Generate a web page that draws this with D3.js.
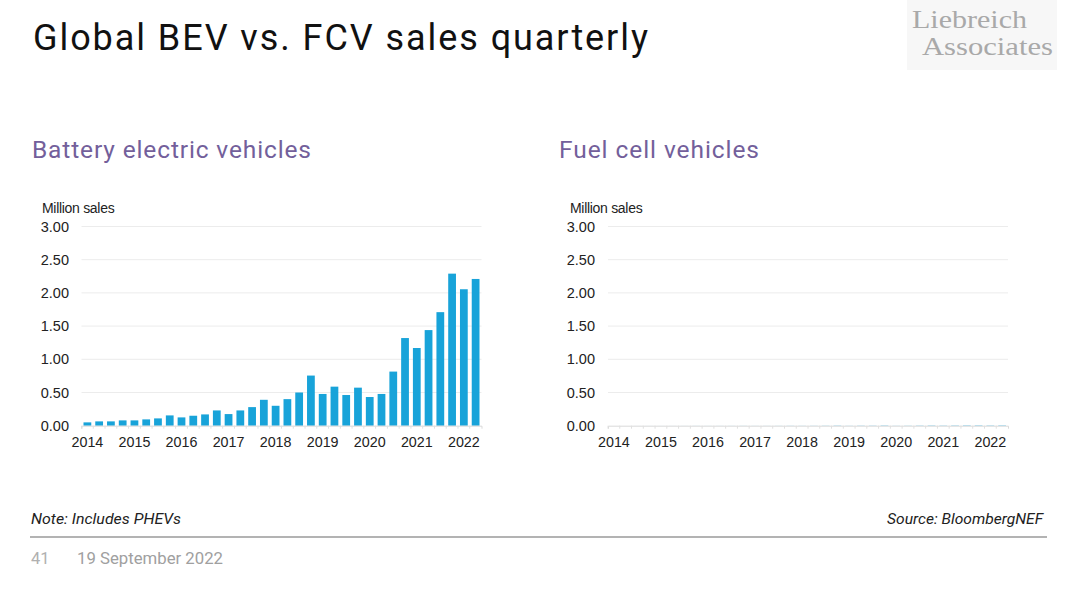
<!DOCTYPE html>
<html>
<head>
<meta charset="utf-8">
<script src="https://cdn.jsdelivr.net/npm/d3@7"></script>
<style>
html,body{margin:0;padding:0;background:#fff;}
svg{display:block;}
</style>
</head>
<body>
<svg id="chart" width="1080" height="593"></svg>
<script>
// ---- data ----
const years = ["2014","2015","2016","2017","2018","2019","2020","2021","2022"];
const quarters = [];
years.forEach(y => ["Q1","Q2","Q3","Q4"].forEach(q => { if (!(y === "2022" && (q === "Q3" || q === "Q4"))) quarters.push(y + q); }));
const bevSales = [0.05,0.065,0.065,0.08,0.08,0.095,0.11,0.155,
                  0.125,0.15,0.17,0.23,0.175,0.23,0.28,0.39,
                  0.30,0.40,0.50,0.755,0.478,0.588,0.462,0.573,
                  0.432,0.478,0.815,1.32,1.17,1.44,1.71,2.29,
                  2.055,2.21];
const fcvSales = [0.0001,0.0001,0.0002,0.0003,0.0003,0.0004,0.0005,0.0008,
                  0.0006,0.0007,0.0008,0.001,0.0008,0.0009,0.001,0.0015,
                  0.0012,0.0015,0.002,0.003,0.0015,0.0025,0.0025,0.004,
                  0.0015,0.002,0.003,0.004,0.003,0.004,0.005,0.005,
                  0.004,0.005];
const yTicks = [0, 0.5, 1.0, 1.5, 2.0, 2.5, 3.0];

const svg = d3.select("#chart");

// ---- headers ----
svg.append("text").attr("x", 33).attr("y", 50)
  .attr("font-family", "Roboto, sans-serif").attr("font-size", 36)
  .attr("fill", "#111").attr("textLength", 615).attr("lengthAdjust", "spacing")
  .text("Global BEV vs. FCV sales quarterly");

// logo
const logo = svg.append("g");
logo.append("rect").attr("x", 907).attr("y", 0).attr("width", 150).attr("height", 70).attr("fill", "#f7f7f7");
logo.append("text").attr("x", 912).attr("y", 28).attr("font-family", "'Liberation Serif', serif")
  .attr("font-size", 24.5).attr("fill", "#a9a9a9").attr("textLength", 115).attr("lengthAdjust", "spacingAndGlyphs").text("Liebreich");
logo.append("text").attr("x", 922).attr("y", 55).attr("font-family", "'Liberation Serif', serif")
  .attr("font-size", 24.5).attr("fill", "#a9a9a9").attr("textLength", 131).attr("lengthAdjust", "spacingAndGlyphs").text("Associates");

// ---- panels ----
function panel(opts) {
  const g = svg.append("g");
  g.append("text").attr("x", opts.titleX).attr("y", 158)
    .attr("font-family", "Roboto, sans-serif").attr("font-size", 24.5)
    .attr("fill", "#735f9b").attr("textLength", opts.titleW).attr("lengthAdjust", "spacing")
    .text(opts.title);

  const x = d3.scaleBand().domain(quarters).range([opts.x0, opts.x1]).paddingInner(0.34).paddingOuter(0.17);
  const xl = d3.scaleBand().domain(quarters).range([opts.x0, opts.x1]);
  const y = d3.scaleLinear().domain([0, 3]).range([425.7, 226.5]);

  // gridlines
  g.append("g").selectAll("line").data(yTicks.slice(1)).join("line")
    .attr("x1", opts.x0).attr("x2", opts.x1)
    .attr("y1", d => y(d)).attr("y2", d => y(d))
    .attr("stroke", "#ececec").attr("stroke-width", 1);

  // y axis labels
  const ya = g.append("g").attr("transform", `translate(${opts.labelRight},0)`)
    .call(d3.axisLeft(y).tickValues(yTicks).tickFormat(d3.format(".2f")).tickSize(0).tickPadding(0));
  ya.select(".domain").remove();
  ya.selectAll("text").attr("font-family", "'Liberation Sans', Arial, sans-serif")
    .attr("font-size", 14.5).attr("fill", "#222");

  // bars
  g.append("g").selectAll("rect").data(opts.values).join("rect")
    .attr("x", (d, i) => x(quarters[i])).attr("width", x.bandwidth())
    .attr("y", d => y(d)).attr("height", d => y(0) - y(d))
    .attr("fill", "#18a3d9");

  // x axis
  const xa = g.append("g").attr("transform", `translate(0,${y(0)})`)
    .call(d3.axisBottom(xl).tickValues(quarters).tickSize(3).tickFormat(""));
  xa.select(".domain").attr("stroke", "#d9d9d9");
  xa.selectAll(".tick line").attr("stroke", "#e0e0e0").attr("transform", `translate(${-xl.bandwidth()/2},0)`);

  const lab = g.append("g").attr("transform", `translate(0,${y(0)})`)
    .call(d3.axisBottom(xl).tickValues(quarters.filter(q => q.endsWith("Q1"))).tickSize(0).tickPadding(11)
      .tickFormat(q => q.slice(0, 4)));
  lab.select(".domain").remove();
  lab.selectAll("text").attr("font-family", "'Liberation Sans', Arial, sans-serif")
    .attr("font-size", 14.3).attr("fill", "#222");

  g.append("text").attr("x", opts.unitX).attr("y", 213)
    .attr("font-family", "'Liberation Sans', Arial, sans-serif").attr("font-size", 14)
    .attr("letter-spacing", -0.3).attr("fill", "#222").text("Million sales");
}

panel({ title: "Battery electric vehicles", titleX: 32, titleW: 279, x0: 81.5, x1: 481.5, labelRight: 69, unitX: 42, values: bevSales });
panel({ title: "Fuel cell vehicles", titleX: 559, titleW: 200, x0: 608, x1: 1008, labelRight: 595, unitX: 570, values: fcvSales });

// ---- footer ----
svg.append("text").attr("x", 31).attr("y", 524)
  .attr("font-family", "Roboto, 'Liberation Sans', sans-serif").attr("font-size", 15.5)
  .attr("font-style", "italic").attr("fill", "#222")
  .attr("textLength", 150).attr("lengthAdjust", "spacingAndGlyphs").text("Note: Includes PHEVs");
svg.append("text").attr("x", 887).attr("y", 524)
  .attr("font-family", "Roboto, 'Liberation Sans', sans-serif").attr("font-size", 15.5)
  .attr("font-style", "italic").attr("fill", "#222")
  .attr("textLength", 156).attr("lengthAdjust", "spacingAndGlyphs").text("Source: BloombergNEF");
svg.append("line").attr("x1", 30).attr("x2", 1047).attr("y1", 537).attr("y2", 537)
  .attr("stroke", "#9a9a9a").attr("stroke-width", 1.3);
svg.append("text").attr("x", 31).attr("y", 564)
  .attr("font-family", "Roboto, sans-serif").attr("font-size", 16.5)
  .attr("fill", "#b0b0b0").text("41");
svg.append("text").attr("x", 77).attr("y", 564)
  .attr("font-family", "Roboto, sans-serif").attr("font-size", 16.5)
  .attr("fill", "#a0a0a0").attr("textLength", 146).attr("lengthAdjust", "spacingAndGlyphs").text("19 September 2022");
</script>
</body>
</html>
